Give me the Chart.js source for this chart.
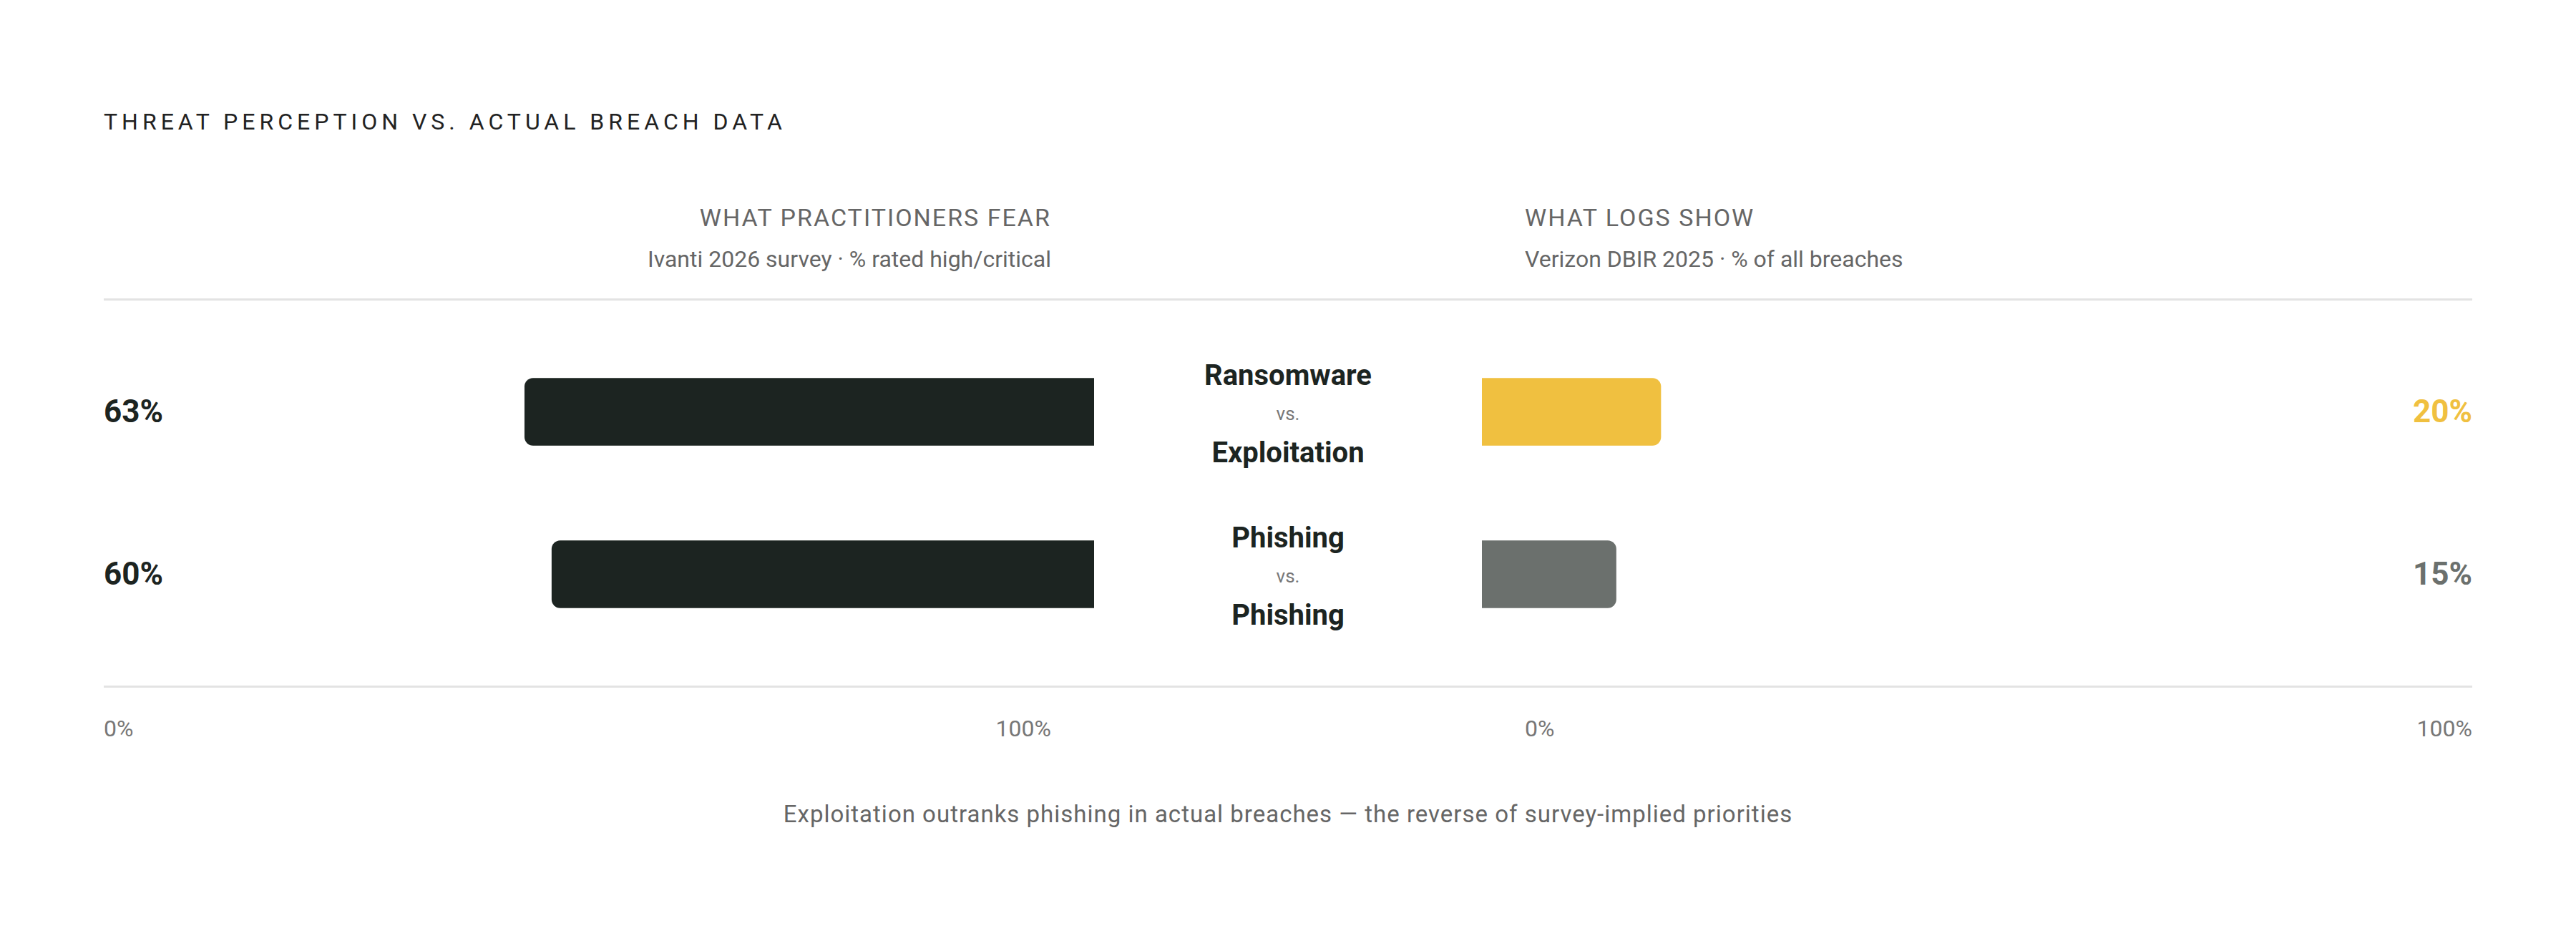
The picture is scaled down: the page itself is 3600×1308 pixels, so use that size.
<!DOCTYPE html>
<html><head><meta charset="utf-8">
<script src="https://cdn.jsdelivr.net/npm/chart.js@4"></script>
<style>
body{margin:0;width:3600px;height:1308px;background:#fff;font-family:Roboto,"Noto Sans",sans-serif;position:relative;overflow:hidden}
.t{position:absolute;white-space:nowrap;line-height:1}
canvas{position:absolute}
.hr{position:absolute;left:145px;width:3310px;height:3px;background:#e3e3e3}
</style></head><body>
<div class="t" id="title" style="left:145px;top:154px;font-size:32px;letter-spacing:6px;color:#222">THREAT PERCEPTION VS. ACTUAL BREACH DATA</div>
<div class="t" style="right:2131px;top:287px;font-size:34px;letter-spacing:2px;color:#666">WHAT PRACTITIONERS FEAR</div>
<div class="t" style="right:2131px;top:346px;font-size:32px;color:#666">Ivanti 2026 survey · % rated high/critical</div>
<div class="t" style="left:2131px;top:287px;font-size:34px;letter-spacing:2px;color:#666">WHAT LOGS SHOW</div>
<div class="t" style="left:2131px;top:346px;font-size:32px;color:#666">Verizon DBIR 2025 · % of all breaches</div>
<div class="hr" style="top:417px"></div>
<div class="hr" style="top:958px"></div>
<div id="labels"></div>
<canvas id="cl" width="1263" height="454" style="left:266px;top:462px"></canvas>
<canvas id="cr" width="1250" height="454" style="left:2071px;top:462px"></canvas>
<div class="t" style="left:145px;top:1002px;font-size:32px;color:#777">0%</div>
<div class="t" style="right:2131px;top:1002px;font-size:32px;color:#777">100%</div>
<div class="t" style="left:2131px;top:1002px;font-size:32px;color:#777">0%</div>
<div class="t" style="right:145px;top:1002px;font-size:32px;color:#777">100%</div>
<div class="t" style="left:0;width:3600px;text-align:center;top:1121px;font-size:33px;letter-spacing:1px;color:#666">Exploitation outranks phishing in actual breaches — the reverse of survey-implied priorities</div>
<script>
const perceived = ["Ransomware","Phishing"];
const actual = ["Exploitation","Phishing"];
const fearValues = [63,60];
const logValues = [20,15];
const logColors = ["#f0c040","#6b706d"];
const valueColors = ["#f0c040","#6b706d"];

const rowY = [575,802];
let html="";
for(let i=0;i<2;i++){
  const y=rowY[i];
  html+=`<div class="t" style="left:145px;top:${y-22}px;font-size:44px;font-weight:700;color:#1c2421">${fearValues[i]}%</div>`;
  html+=`<div class="t" style="right:145px;top:${y-22}px;font-size:44px;font-weight:700;color:${valueColors[i]}">${logValues[i]}%</div>`;
  html+=`<div class="t" style="left:1500px;width:600px;text-align:center;top:${y-70}px;font-size:40px;font-weight:700;color:#1c2421">${perceived[i]}</div>`;
  html+=`<div class="t" style="left:1500px;width:600px;text-align:center;top:${y-10}px;font-size:26px;color:#777">vs.</div>`;
  html+=`<div class="t" style="left:1500px;width:600px;text-align:center;top:${y+38}px;font-size:40px;font-weight:700;color:#1c2421">${actual[i]}</div>`;
}
document.getElementById('labels').innerHTML=html;

function mk(id,data,colors,reverse){
  new Chart(document.getElementById(id),{
    type:'bar',
    data:{labels:perceived,datasets:[{data:data,backgroundColor:colors,barThickness:94,borderRadius:12,borderSkipped:'start'}]},
    options:{indexAxis:'y',responsive:false,animation:false,devicePixelRatio:1,
      layout:{padding:0},
      plugins:{legend:{display:false},tooltip:{enabled:false}},
      scales:{x:{display:false,min:0,max:100,reverse:reverse},y:{display:false}}}
  });
}
mk('cl',fearValues,"#1c2421",true);
mk('cr',logValues,logColors,false);
</script>
</body></html>
